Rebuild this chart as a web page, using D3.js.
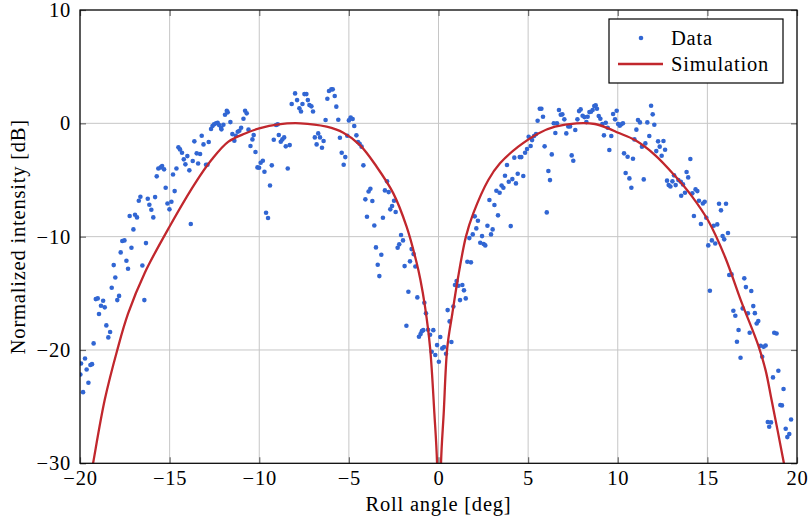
<!DOCTYPE html>
<html>
<head>
<meta charset="utf-8">
<script src="https://cdn.jsdelivr.net/npm/d3@7"></script>
<style>
  html, body { margin: 0; padding: 0; background: #ffffff; }
  svg { display: block; font-family: "Liberation Serif", "DejaVu Serif", serif; }
</style>
</head>
<body>
<svg id="chart" width="810" height="519"></svg>
<script>
// Axis ticks
const xTicks = [-20, -15, -10, -5, 0, 5, 10, 15, 20];
const yTicks = [-30, -20, -10, 0, 10];

// Measured intensity vs roll angle
const dataX = [
  -19.98, -19.94, -19.83, -19.72, -19.63, -19.53, -19.42, -19.33, -19.24, -19.12,
  -19.01, -18.94, -18.83, -18.71, -18.62, -18.53, -18.42, -18.32, -18.23, -18.12,
  -18.03, -17.92, -17.82, -17.73, -17.64, -17.52, -17.41, -17.32, -17.23, -17.13,
  -17.02, -16.93, -16.82, -16.72, -16.63, -16.52, -16.41, -16.32, -16.22, -16.13,
  -16.02, -15.91, -15.81, -15.72, -15.63, -15.50, -15.42, -15.31, -15.22, -15.12,
  -15.01, -14.90, -14.81, -14.72, -14.62, -14.51, -14.42, -14.31, -14.21, -14.12,
  -14.01, -13.90, -13.82, -13.71, -13.62, -13.49, -13.41,
  -13.30, -13.21, -13.11, -12.97, -12.89, -12.82, -12.69, -12.61, -12.52, -12.41,
  -12.32, -12.24, -12.13, -12.11, -12.00, -11.91, -11.81, -11.76, -11.61, -11.50,
  -11.39, -11.31, -11.20, -11.11, -11.01, -10.88, -10.79, -10.70, -10.60, -10.49,
  -10.38, -10.31, -10.21, -10.10, -10.01, -9.92, -9.80, -9.71, -9.62, -9.51,
  -9.40, -9.30, -9.19, -9.06, -8.97, -8.91, -8.80, -8.71, -8.61, -8.52,
  -8.41, -8.30, -8.19, -8.00, -7.89, -7.76, -7.67, -7.59, -7.48, -7.37,
  -7.29, -7.20, -7.09, -7.00, -6.90,
  -6.80, -6.71, -6.61, -6.50, -6.41, -6.30, -6.20, -6.11, -5.98, -5.90,
  -5.79, -5.70, -5.59, -5.50, -5.40, -5.29, -5.20, -5.09, -5.00, -4.90,
  -4.79, -4.70, -4.58, -4.49, -4.40, -4.29, -4.19, -4.08, -3.99, -3.90,
  -3.80, -3.69, -3.58, -3.49, -3.39, -3.30, -3.19, -3.10, -2.99, -2.87,
  -2.78, -2.69, -2.59, -2.48, -2.39, -2.28, -2.19, -2.09, -1.98, -1.89,
  -1.79, -1.68, -1.59, -1.50, -1.39, -1.29, -1.18, -1.09, -1.00, -0.93,
  -0.85, -0.79, -0.70, -0.58, -0.47, -0.38, -0.29, -0.18, -0.08, 0.02,
  0.10, 0.21, 0.31, 0.42, 0.51, 0.62, 0.72, 0.83, 0.92, 1.01,
  1.11, 1.20, 1.33, 1.42, 1.52, 1.61, 1.72, 1.81, 1.91, 2.02,
  2.11, 2.20, 2.33, 2.43, 2.52, 2.61, 2.73, 2.84, 2.93, 3.02,
  3.12, 3.23, 3.32, 3.41, 3.52, 3.62, 3.71, 3.82, 3.92, 4.03,
  4.12, 4.23, 4.32, 4.42, 4.53, 4.62, 4.73, 4.83, 4.94, 5.03,
  5.14, 5.22, 5.33, 5.44, 5.53, 5.65, 5.74, 5.83, 5.92, 6.04,
  6.13, 6.22, 6.32, 6.43, 6.52,
  6.61, 6.72, 6.82, 6.91, 7.02, 7.13, 7.24, 7.34, 7.43, 7.52,
  7.63, 7.75, 7.84, 7.93, 8.04, 8.14, 8.25, 8.32, 8.42, 8.51,
  8.60, 8.69, 8.77, 8.84, 8.94, 9.03, 9.14, 9.23, 9.33, 9.44,
  9.53, 9.64, 9.74, 9.85, 9.94, 10.02, 10.11, 10.20, 10.29, 10.35,
  10.44, 10.55, 10.65, 10.76, 10.85, 10.93, 11.04, 11.13, 11.24, 11.35,
  11.45, 11.54, 11.65, 11.76, 11.86, 11.95, 12.04, 12.15, 12.25, 12.34,
  12.45, 12.55, 12.64, 12.75, 12.84, 12.94, 13.05, 13.14, 13.23,
  13.38, 13.52, 13.64, 13.54, 13.75, 13.84, 13.93, 14.05, 14.16, 14.25,
  14.34, 14.44, 14.53, 14.64, 14.75, 14.85, 14.94, 15.05, 15.14, 15.25,
  15.35, 15.44, 15.55, 15.65, 15.76, 15.85, 15.94, 16.04, 16.15, 16.22,
  16.35, 16.45, 16.56, 16.65, 16.74, 16.85, 16.97, 17.06, 17.15, 17.26,
  17.36, 17.45, 17.56, 17.65, 17.75, 17.84, 17.97, 18.06, 18.14, 18.25,
  18.66, 18.73, 18.86, 18.96, 19.25,
  19.07, 19.16, 18.37, 18.55, 18.45, 19.67, 19.37, 19.57, 19.46
];
const dataY = [
  -22.16, -21.19, -23.72, -20.75, -21.72, -22.89, -21.33, -21.25, -19.42, -15.51,
  -15.45, -16.83, -16.10, -15.66, -16.24, -17.83, -18.89, -18.42, -14.51, -12.51,
  -13.60, -15.60, -15.23, -11.39, -10.39, -10.33, -12.13, -12.83, -8.18, -10.98,
  -9.36, -8.07, -8.30, -6.83, -6.48, -12.54, -15.60, -10.57, -6.65, -7.18,
  -7.62, -8.30, -6.51, -4.68, -3.98, -3.89, -3.77, -4.06, -5.68, -7.07,
  -7.59, -6.92, -4.51, -5.98, -3.98, -2.12, -2.30, -2.59, -3.18, -3.62,
  -2.89, -4.15, -8.89, -3.33, -1.59, -2.65, -3.54,
  -2.71, -1.09, -1.86, -3.65, -3.65, -1.65, -0.50, -0.24, -0.09, 0.00,
  0.05, -0.15, -0.39, -0.53, -0.12, 0.76, 1.11, 0.97, 0.11, -0.95,
  -1.53, -1.09, -0.74, -0.65, -0.39, 0.41, 1.11, 0.88, -0.56, -2.00,
  -1.42, -1.03, -2.53, -3.89, -3.92, -3.48, -3.30, -4.27, -7.89, -8.36,
  -5.48, -3.71, -1.45, -0.15, -0.09, -1.03, -1.62, -1.42, -1.24, -2.03,
  -3.98, -1.92, 1.70, 2.64, 2.05, 1.32, 1.05, 1.70, 2.58, 2.58,
  2.05, 1.61, 1.50, 1.05, -1.24,
  -1.86, -0.89, -1.24, -2.15, -1.56, 0.29, 2.17, 2.85, 3.00, 3.00,
  2.41, 1.47, 0.32, -1.27, -2.59, -3.65, -2.98, -1.09, 0.26, 0.52,
  0.38, -0.24, -1.06, -1.65, -1.80, -2.06, -3.71, -6.71, -8.24, -6.01,
  -5.77, -6.86, -9.01, -10.95, -12.48, -13.48, -11.60, -8.33, -5.92, -5.12,
  -6.07, -7.59, -7.30, -6.83, -7.83, -10.98, -10.68, -9.86, -10.33, -12.60,
  -17.86, -14.86, -12.18, -11.10, -11.54, -12.63, -15.36, -18.83, -18.60, -18.34,
  -18.25, -15.83, -16.77, -18.22, -18.66, -20.16, -18.25, -20.45, -19.57, -21.04,
  -18.86, -19.86, -19.74, -20.33, -16.48, -17.48, -19.30, -16.17, -14.27, -13.92,
  -14.33, -15.60, -14.27, -14.74, -15.45, -12.21, -10.13, -12.27, -9.80, -8.21,
  -9.27, -8.60, -10.54, -9.95, -10.65, -10.77, -9.04, -6.77, -9.80, -9.36,
  -7.21, -5.95, -8.12, -6.12, -5.48, -5.68, -4.62, -3.68, -5.15, -9.07,
  -4.92, -3.03, -5.30, -4.45, -2.98, -2.98, -4.65, -2.59, -2.27, -1.18,
  -2.00, -1.48, -1.12, -0.95, 0.23, 1.29, 1.29, 0.58, -2.03, -7.86,
  -4.21, -5.01, -2.74, 0.00, -0.86,
  0.00, 1.17, 0.76, 0.79, 0.35, -0.89, -0.27, -0.27, -2.83, -3.30,
  -0.59, 0.35, 1.08, 1.23, 0.67, 0.55, 0.11, 0.58, 0.99, 1.02,
  1.17, 1.53, 1.58, 1.29, 0.64, 0.41, -0.06, -1.06, 0.05, -0.39,
  -2.36, -1.12, 0.82, 0.35, 1.11, -0.06, -0.21, -0.09, 0.00, -2.65,
  -4.39, -2.95, -4.86, -5.68, -3.12, -1.42, -0.56, 0.29, 0.08, -2.06,
  -4.95, -1.77, 0.08, -1.12, 1.55, 0.79, -0.12, -2.45, -1.59, -2.06,
  -2.86, -1.56, -2.33, -5.06, -5.45, -5.57, -5.12, -4.59, -5.45,
  -5.01, -5.15, -5.39, -6.39, -6.12, -4.30, -4.77, -3.15, -6.18, -8.18,
  -5.83, -5.98, -6.83, -8.89, -7.07, -6.92, -8.33, -10.77, -14.77, -10.33,
  -9.04, -10.60, -8.92, -7.10, -7.68, -9.95, -10.24, -7.10, -9.68, -13.39,
  -13.33, -16.54, -16.98, -19.27, -18.24, -20.69, -16.33, -13.68, -14.45, -16.77,
  -18.48, -14.80, -16.13, -16.75, -17.66, -17.45, -19.63, -20.60, -19.72, -19.60,
  -22.42, -18.48, -18.54, -21.83, -23.45,
  -24.86, -24.89, -26.36, -26.39, -26.78, -26.13, -26.95, -27.42, -27.69
];

// Simulated pattern (two lobes with a null at broadside)
const simX = [
  -19.60, -19.27, -18.62, -17.92, -17.32, -16.39, -15.00, -13.58, -12.65, -11.72,
  -10.79, -10.00, -8.93, -7.70, -6.24, -5.31, -4.38, -3.45, -2.52, -1.78,
  -1.22, -1.01, -0.75, -0.47, -0.23, -0.08, 0.03, 0.14, 0.29, 0.49,
  0.77, 1.07, 1.53, 1.94, 2.78, 3.43, 4.45, 5.57, 6.50, 7.70,
  8.73, 9.48, 10.03, 10.96, 12.08, 13.20, 14.12, 15.05, 15.98, 16.91,
  17.84, 18.25, 18.58, 19.27, 19.60
];
const simY = [
  -33.0, -30.0, -24.4, -20.0, -16.8, -13.2, -9.1, -5.3, -3.2, -1.62,
  -0.90, -0.45, -0.09, 0.0, -0.30, -0.83, -1.92, -3.83, -6.18, -9.12,
  -12.3, -13.8, -16.2, -19.8, -25.6, -30.0, -45.0, -30.0, -25.6, -19.8,
  -16.8, -13.8, -10.0, -7.95, -5.0, -3.53, -2.06, -0.89, -0.30, 0.0,
  -0.06, -0.45, -0.83, -1.48, -2.80, -4.65, -6.40, -8.60, -11.77, -15.8,
  -19.6, -21.8, -24.4, -30.0, -33.0
];

const plotLeft = 80, plotRight = 797, plotTop = 10, plotBottom = 463.3;
const dotColor = "#3166d3";
const lineColor = "#c1272d";
const gridColor = "#c6c6c6";
const tickColor = "#6a6a6a";
const fontSize = 20.5;
const fontFamily = '"Liberation Serif", "DejaVu Serif", serif';
const letterSpacing = "0.8px";

const svg = d3.select("#chart");
const x = d3.scaleLinear().domain([-20, 20]).range([plotLeft, plotRight]);
const y = d3.scaleLinear().domain([-30, 10]).range([plotBottom, plotTop]);

svg.append("defs").append("clipPath").attr("id", "plot-clip")
  .append("rect").attr("x", plotLeft).attr("y", plotTop)
  .attr("width", plotRight - plotLeft).attr("height", plotBottom - plotTop);

// grid
const grid = svg.append("g");
grid.selectAll("line.gx").data(xTicks).join("line")
  .attr("class", "gx")
  .attr("x1", d => x(d)).attr("x2", d => x(d))
  .attr("y1", plotTop).attr("y2", plotBottom)
  .attr("stroke", gridColor).attr("stroke-width", 1);
grid.selectAll("line.gy").data(yTicks).join("line")
  .attr("class", "gy")
  .attr("x1", plotLeft).attr("x2", plotRight)
  .attr("y1", d => y(d)).attr("y2", d => y(d))
  .attr("stroke", gridColor).attr("stroke-width", 1);

// axes (inward ticks on all four sides)
function styleAxis(g) {
  g.select(".domain").remove();
  g.selectAll(".tick line").attr("stroke", tickColor).attr("stroke-width", 1.2);
  g.selectAll(".tick text").attr("fill", "#000").style("font-size", fontSize + "px")
    .style("font-family", fontFamily).style("letter-spacing", letterSpacing);
}
svg.append("g").attr("transform", `translate(0,${plotBottom})`)
  .call(d3.axisBottom(x).tickValues(xTicks).tickSizeInner(-6).tickSizeOuter(0).tickPadding(7))
  .call(styleAxis);
svg.append("g").attr("transform", `translate(0,${plotTop})`)
  .call(d3.axisTop(x).tickValues(xTicks).tickSizeInner(-6).tickSizeOuter(0).tickFormat(""))
  .call(styleAxis);
svg.append("g").attr("transform", `translate(${plotLeft},0)`)
  .call(d3.axisLeft(y).tickValues(yTicks).tickSizeInner(-6).tickSizeOuter(0).tickPadding(9))
  .call(styleAxis);
svg.append("g").attr("transform", `translate(${plotRight},0)`)
  .call(d3.axisRight(y).tickValues(yTicks).tickSizeInner(-6).tickSizeOuter(0).tickFormat(""))
  .call(styleAxis);

// data points
const plot = svg.append("g").attr("clip-path", "url(#plot-clip)");
plot.selectAll("circle").data(d3.range(dataX.length)).join("circle")
  .attr("cx", i => x(dataX[i]))
  .attr("cy", i => y(dataY[i]))
  .attr("r", 2.3)
  .attr("fill", dotColor);

// simulation curve
const line = d3.line()
  .x(i => x(simX[i]))
  .y(i => y(simY[i]))
  .curve(d3.curveCatmullRom.alpha(0.5));
plot.append("path")
  .attr("d", line(d3.range(simX.length)))
  .attr("fill", "none")
  .attr("stroke", lineColor)
  .attr("stroke-width", 2.3)
  .attr("stroke-linejoin", "round");

// frame
svg.append("rect")
  .attr("x", plotLeft).attr("y", plotTop)
  .attr("width", plotRight - plotLeft).attr("height", plotBottom - plotTop)
  .attr("fill", "none").attr("stroke", "#000").attr("stroke-width", 1.2);

// axis titles
svg.append("text")
  .attr("x", (plotLeft + plotRight) / 2).attr("y", 511)
  .attr("text-anchor", "middle")
  .style("font-size", fontSize + "px").style("font-family", fontFamily)
  .style("letter-spacing", letterSpacing)
  .text("Roll angle [deg]");
svg.append("text")
  .attr("transform", `translate(25,${(plotTop + plotBottom) / 2}) rotate(-90)`)
  .attr("text-anchor", "middle")
  .style("font-size", fontSize + "px").style("font-family", fontFamily)
  .style("letter-spacing", letterSpacing)
  .text("Normalized intensity [dB]");

// legend
const lg = svg.append("g").style("font-family", fontFamily)
  .style("font-size", fontSize + "px").style("letter-spacing", letterSpacing);
lg.append("rect")
  .attr("x", 609).attr("y", 19).attr("width", 174).attr("height", 64)
  .attr("fill", "#fff").attr("stroke", "#000").attr("stroke-width", 1.2);
lg.append("circle").attr("cx", 641).attr("cy", 38).attr("r", 2.3).attr("fill", dotColor);
lg.append("line").attr("x1", 618).attr("x2", 663).attr("y1", 64).attr("y2", 64)
  .attr("stroke", lineColor).attr("stroke-width", 2.3);
lg.append("text").attr("x", 671).attr("y", 45).text("Data");
lg.append("text").attr("x", 671).attr("y", 71).text("Simulation");
</script>
</body>
</html>
